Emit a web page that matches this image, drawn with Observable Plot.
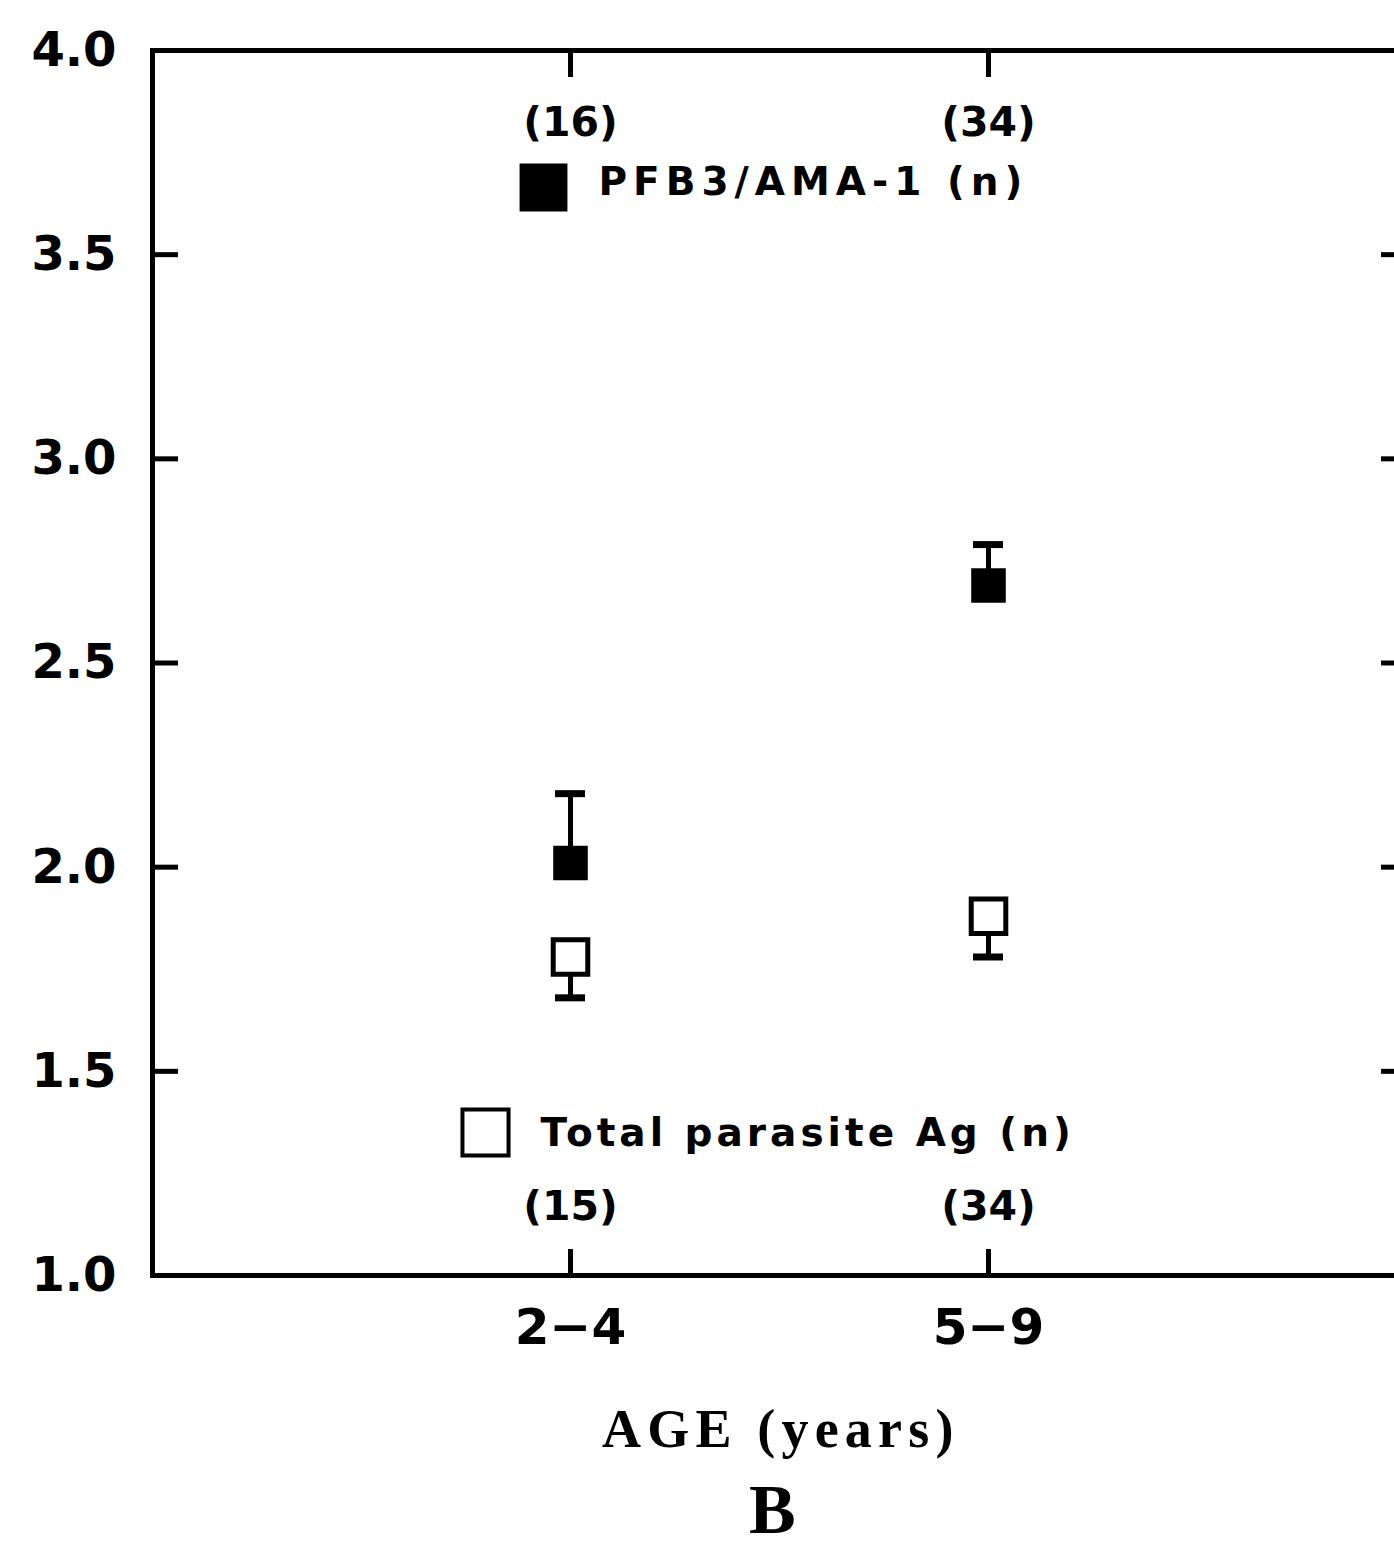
<!DOCTYPE html>
<html>
<head>
<meta charset="utf-8">
<script src="https://cdn.jsdelivr.net/npm/d3@7"></script>
<script src="https://cdn.jsdelivr.net/npm/@observablehq/plot@0.6"></script>
<style>
  html, body { margin: 0; padding: 0; background: #fff; overflow: hidden; }
  #wrap { position: relative; width: 1394px; height: 1550px; }
  #xlabel { position: absolute; left: 602px; top: 1402px; font-family: "Liberation Serif", serif; font-weight: bold; font-size: 54px; line-height: 54px; letter-spacing: 6.2px; white-space: nowrap; color: #000; }
  #panel { position: absolute; left: 749px; top: 1485px; font-family: "Liberation Serif", serif; font-weight: bold; font-size: 70px; line-height: 50px; color: #000; }
</style>
</head>
<body>
<div id="wrap">
  <div id="chart"></div>
  <div id="xlabel"></div>
  <div id="panel"></div>
</div>
<script>
// ---- data ----
const ageGroups = ["2−4", "5−9"];
const pfb3Mean  = [2.01, 2.69];
const pfb3Upper = [2.18, 2.79];
const pfb3N     = [16, 34];
const totalMean  = [1.78, 1.88];
const totalLower = [1.68, 1.78];
const totalN     = [15, 34];
const yTicks = [1.0, 1.5, 2.0, 2.5, 3.0, 3.5, 4.0];
const seriesNames = ["PFB3/AMA-1 (n)", "Total parasite Ag (n)"];
const xAxisLabel = "AGE (years)";
const panelLabel = "B";

const pfb3 = ageGroups.map((age, i) => ({age, mean: pfb3Mean[i], bar: pfb3Upper[i], n: pfb3N[i]}));
const total = ageGroups.map((age, i) => ({age, mean: totalMean[i], bar: totalLower[i], n: totalN[i]}));

const sans = "DejaVu Sans";
const nText = {fontFamily: sans, fontWeight: "bold", fontSize: 41, fill: "black", lineAnchor: "middle"};
const legText = {fontFamily: sans, fontWeight: "bold", fontSize: 39, fill: "black", lineAnchor: "middle", textAnchor: "start"};

const chart = Plot.plot({
  width: 1394,
  height: 1370,
  marginLeft: 152,
  marginRight: -12,
  marginTop: 50,
  marginBottom: 95,
  style: {background: "white", color: "black"},
  x: {type: "band", domain: ageGroups, paddingInner: 0, paddingOuter: 0.5, label: null},
  y: {domain: [1, 4], label: null},
  marks: [
    // axes
    Plot.axisY(yTicks, {anchor: "left", tickSize: 0, tickPadding: 36, tickFormat: d => d.toFixed(1),
      fontSize: 48, fontFamily: sans, fontWeight: "bold", label: null}),
    Plot.axisY(yTicks, {anchor: "left", tickSize: -26, strokeWidth: 5, tickFormat: () => "", label: null}),
    Plot.axisY(yTicks, {anchor: "right", tickSize: -26, strokeWidth: 5, tickFormat: () => "", label: null}),
    Plot.axisX({anchor: "bottom", tickSize: 0, tickPadding: 33, fontSize: 50, fontFamily: sans, fontWeight: "bold", label: null}),
    Plot.axisX({anchor: "bottom", tickSize: -26, strokeWidth: 5, tickFormat: () => "", label: null}),
    Plot.axisX({anchor: "top", tickSize: -26, strokeWidth: 5, tickFormat: () => "", label: null}),
    Plot.frame({strokeWidth: 5, stroke: "black"}),
    // error bars
    Plot.ruleX(pfb3, {x: "age", y1: "mean", y2: "bar", strokeWidth: 5, stroke: "black"}),
    Plot.tickY(pfb3, {x: "age", y: "bar", strokeWidth: 7, stroke: "black", insetLeft: 194, insetRight: 194}),
    Plot.ruleX(total, {x: "age", y1: "mean", y2: "bar", strokeWidth: 5, stroke: "black"}),
    Plot.tickY(total, {x: "age", y: "bar", strokeWidth: 7, stroke: "black", insetLeft: 194, insetRight: 194}),
    // means
    Plot.dot(pfb3, {x: "age", y: "mean", symbol: "square", r: 19.5, fill: "black"}),
    Plot.dot(total, {x: "age", y: "mean", symbol: "square", r: 19.5, fill: "white", stroke: "black", strokeWidth: 5}),
    // sample sizes
    Plot.text(pfb3, {x: "age", frameAnchor: "top", dy: 72, text: d => `(${d.n})`, ...nText}),
    Plot.text(total, {x: "age", frameAnchor: "bottom", dy: -69, text: d => `(${d.n})`, ...nText}),
    // in-plot legend
    Plot.dot([seriesNames[0]], {frameAnchor: "top-left", dx: 391, dy: 137, symbol: "square", r: 27, fill: "black"}),
    Plot.text([seriesNames[0]], {frameAnchor: "top-left", dx: 446, dy: 132, text: d => d, ...legText}),
    Plot.dot([seriesNames[1]], {frameAnchor: "bottom-left", dx: 333, dy: -143, symbol: "square", r: 26, fill: "white", stroke: "black", strokeWidth: 4}),
    Plot.text([seriesNames[1]], {frameAnchor: "bottom-left", dx: 388, dy: -142, text: d => d, ...legText})
  ]
});
// letter spacing of the legend entries, as in the plotter lettering
d3.select(chart).selectAll('g[aria-label="text"] text').each(function () {
  const t = this.textContent;
  if (t === seriesNames[0]) this.style.letterSpacing = "6px";
  else if (t === seriesNames[1]) this.style.letterSpacing = "4px";
});
document.getElementById("chart").appendChild(chart);
document.getElementById("xlabel").textContent = xAxisLabel;
document.getElementById("panel").textContent = panelLabel;
</script>
</body>
</html>
